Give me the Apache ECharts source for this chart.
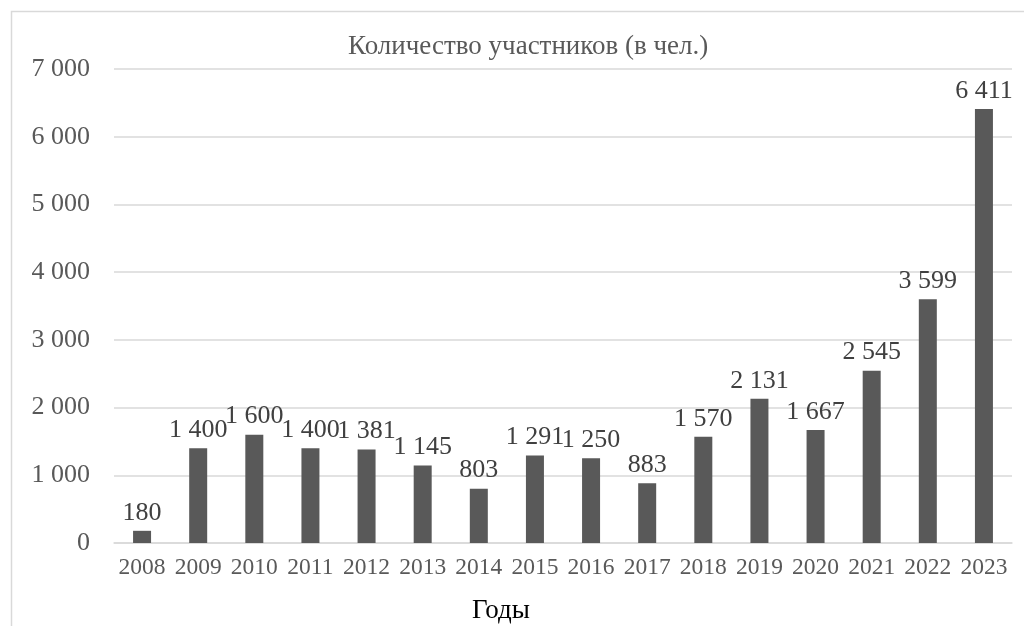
<!DOCTYPE html>
<html><head><meta charset="utf-8">
<script src="https://cdn.jsdelivr.net/npm/echarts@6/dist/echarts.min.js"></script>
<style>html,body{margin:0;padding:0;background:#fff}#c{width:1024px;height:626px}</style>
</head><body><div id="c"></div>
<script>
const years = ['2008','2009','2010','2011','2012','2013','2014','2015','2016','2017','2018','2019','2020','2021','2022','2023'];
const participants = [180,1400,1600,1400,1381,1145,803,1291,1250,883,1570,2131,1667,2545,3599,6411];
const titleText = 'Количество участников (в чел.)';
const xName = 'Годы';
const fmt = v => String(v).replace(/\B(?=(\d{3})+(?!\d))/g, ' ');
const FONT = '"Liberation Serif","Times New Roman",serif';
const chart = echarts.init(document.getElementById('c'), null, {renderer:'canvas'});
chart.setOption({
  animation:false,
  backgroundColor:'#fff',
  graphic:[{type:'rect',shape:{x:11.5,y:11.5,width:1100,height:700},style:{fill:'none',stroke:'#d9d9d9',lineWidth:1.5}},
    {type:'text',x:501,y:597,style:{text:xName,font:'27px '+FONT,fill:'#000',align:'center'}}],
  title:{text:titleText,left:343,top:28,textStyle:{fontFamily:FONT,fontSize:27,fontWeight:'normal',color:'#595959'}},
  grid:{left:114,right:12,top:69,bottom:83},
  xAxis:{type:'category',data:years,axisTick:{show:false},axisLine:{lineStyle:{color:'#d9d9d9',width:1.5}},
    axisLabel:{color:'#595959',fontFamily:FONT,fontSize:23.5,margin:13,interval:0}},
  yAxis:{type:'value',min:0,max:7000,interval:1000,axisLine:{show:false},axisTick:{show:false},
    splitLine:{lineStyle:{color:'#d9d9d9',width:1.5}},
    axisLabel:{color:'#595959',fontFamily:FONT,fontSize:26,margin:24,formatter:fmt}},
  series:[{type:'bar',data:participants,barWidth:18,itemStyle:{color:'#595959'},
    label:{show:true,position:'top',distance:5,color:'#404040',fontFamily:FONT,fontSize:26,formatter:p=>fmt(p.value)}}]
});
</script></body></html>
